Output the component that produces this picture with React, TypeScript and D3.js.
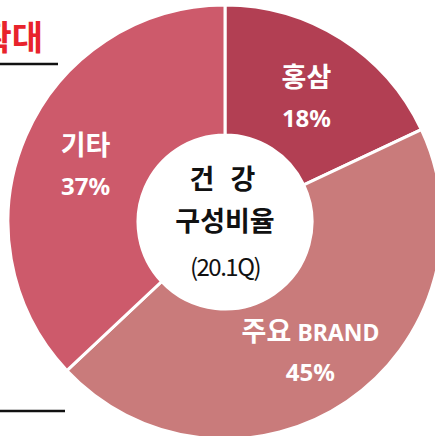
import React from "react";
import * as d3 from "d3";

const categories = ["홍삼", "주요 BRAND", "기타"];
const values = [18, 45, 37];
const colors = ["#b23f53", "#c97b7b", "#cd5a6b"];
const centerLines = ["건 강", "구성비율", "(20.1Q)"];
const title = "확대";

const W = 435;
const H = 436;
const cx = 225;
const cy = 222;
const outerR = 217;
const innerR = 87;
const labelR = 152;

export default function App() {
  const pie = d3.pie<number>().sort(null).value((d) => d);
  const arcs = pie(values);
  const arc = d3.arc<d3.PieArcDatum<number>>().innerRadius(innerR).outerRadius(outerR);
  const labelArc = d3.arc<d3.PieArcDatum<number>>().innerRadius(labelR).outerRadius(labelR);
  const font = "'Noto Sans CJK KR', 'Noto Sans', sans-serif";

  return (
    <svg
      width={W}
      height={H}
      style={{ position: "absolute", left: 0, top: 0, background: "#fff" }}
      fontFamily={font}
    >
      <text x={43} y={50} textAnchor="end" fontSize={34} fontWeight={700} fill="#e8232c">
        {title}
      </text>
      <line x1={0} x2={58} y1={64} y2={64} stroke="#111" strokeWidth={2.5} />
      <line x1={0} x2={65} y1={411} y2={411} stroke="#111" strokeWidth={2.5} />
      <g transform={`translate(${cx},${cy})`}>
        {arcs.map((a, i) => (
          <path key={i} d={arc(a) || ""} fill={colors[i]} stroke="#fff" strokeWidth={3} />
        ))}
        <circle r={innerR} fill="#fff" />
        {arcs.map((a, i) => {
          const [lx, ly] = labelArc.centroid(a);
          const cat = categories[i];
          const parts = cat.split(" ");
          return (
            <g key={"l" + i} transform={`translate(${lx},${ly})`} fill="#fff" textAnchor="middle">
              <text y={-7} fontSize={27} fontWeight={700}>
                {parts.length > 1 ? (
                  <>
                    <tspan>{parts[0]} </tspan>
                    <tspan fontSize={23} fontFamily="'Noto Sans', sans-serif">{parts.slice(1).join(" ")}</tspan>
                  </>
                ) : (
                  cat
                )}
              </text>
              <text y={33} fontSize={24} fontWeight={700} fontFamily="'Noto Sans', sans-serif">
                {values[i]}%
              </text>
            </g>
          );
        })}
        <text y={-33} textAnchor="middle" fontSize={27} fontWeight={700} fill="#111" letterSpacing={5}>
          {centerLines[0]}
        </text>
        <text y={9} textAnchor="middle" fontSize={27} fontWeight={700} fill="#111">
          {centerLines[1]}
        </text>
        <text y={54} textAnchor="middle" fontSize={24} fill="#111" letterSpacing={-1.5}>
          {centerLines[2]}
        </text>
      </g>
    </svg>
  );
}
